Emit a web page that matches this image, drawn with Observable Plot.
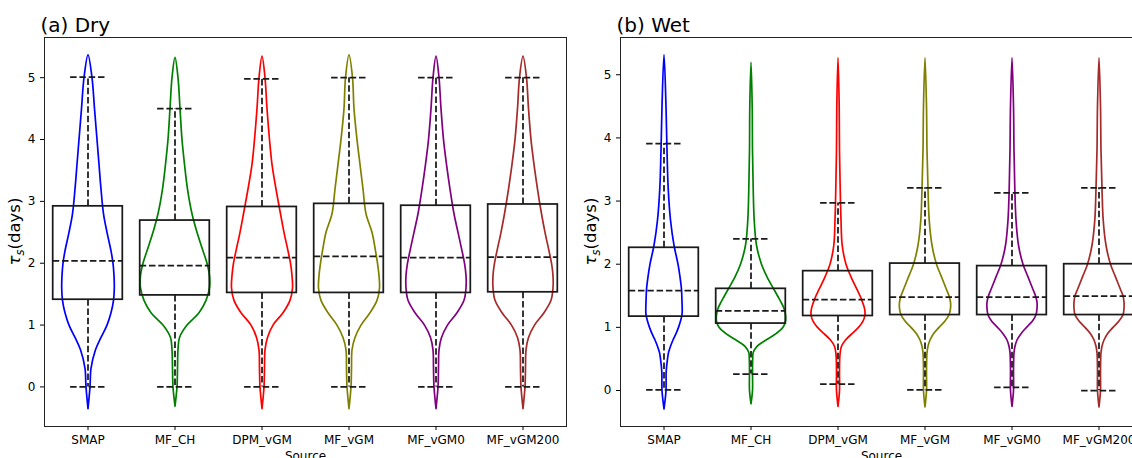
<!DOCTYPE html>
<html><head><meta charset="utf-8">
<script src="https://cdn.jsdelivr.net/npm/d3@7"></script>
<script src="https://cdn.jsdelivr.net/npm/@observablehq/plot@0.6"></script>
<style>
html,body{margin:0;padding:0;background:#fff;}
#wrap{position:relative;width:1132px;height:458px;overflow:hidden;background:#fff;}
#wrap svg{position:absolute;top:0;}
</style></head><body><div id="wrap"></div>
<script>
const sources = ["SMAP","MF_CH","DPM_vGM","MF_vGM","MF_vGM0","MF_vGM200"];
const colors = ["#0000ff","#008000","#ff0000","#808000","#800080","#a52a2a"];
const yTicks = [0, 1, 2, 3, 4, 5];

// ---- Dry season box statistics
const dryQ1  = [1.41, 1.48, 1.52, 1.52, 1.52, 1.53];
const dryMed = [2.04, 1.96, 2.09, 2.11, 2.09, 2.10];
const dryQ3  = [2.92, 2.69, 2.91, 2.96, 2.93, 2.95];
const dryLo  = [0.00, 0.00, 0.00, 0.00, 0.00, 0.00];
const dryHi  = [5.01, 4.50, 4.98, 5.00, 5.00, 5.00];
// ---- Dry violin outlines (half-width density at levels)
const dryTipLo = [-0.35, -0.31, -0.35, -0.35, -0.35, -0.35];
const dryTipHi = [5.37, 5.33, 5.35, 5.37, 5.35, 5.35];
const dryLevels = [0, 0.3, 0.6, 0.8, 1.0, 1.2, 1.4, 1.6, 1.8, 2.0, 2.2, 2.5, 2.8, 3.2, 3.6, 4.0, 4.5, 5.0];
const dryDensSMAP  = [2, 3, 7.5, 13, 19, 23, 25.5, 26.3, 26, 25, 23, 19, 15.5, 13, 11, 9, 6.5, 4];
const dryDensMFCH  = [2, 2.5, 3, 4.5, 12, 24, 31, 34.5, 34.5, 32, 28, 22, 17, 12.5, 9.5, 7, 5, 3];
const dryDensDPM   = [2, 2.5, 3, 5.5, 11, 21, 28, 30.5, 30, 28.5, 26, 22, 18.5, 14, 10, 7.5, 5, 3];
const dryDensVGM   = [2, 2.5, 3, 6, 12, 21, 28, 30.5, 30, 28.5, 26.5, 23, 17, 14, 11, 8, 5, 3.5];
const dryDensVGM0  = [2, 2.5, 3, 5.5, 11.5, 21, 28, 30, 30, 28.5, 26, 22, 18, 14, 10.5, 7.5, 5, 3];
const dryDensVGM200= [2, 2.5, 3, 5.5, 11.5, 21, 28, 30, 30, 28.5, 26, 22, 18.5, 14.5, 11, 8, 5.5, 3.5];

// ---- Wet season box statistics
const wetQ1  = [1.17, 1.06, 1.18, 1.195, 1.195, 1.195];
const wetMed = [1.58, 1.26, 1.44, 1.48, 1.48, 1.495];
const wetQ3  = [2.26, 1.61, 1.89, 2.01, 1.97, 2.00];
const wetLo  = [0.01, 0.26, 0.10, 0.01, 0.05, 0.00];
const wetHi  = [3.91, 2.40, 2.97, 3.21, 3.13, 3.21];
// ---- Wet violin outlines
const wetTipLo = [-0.29, -0.21, -0.25, -0.26, -0.25, -0.26];
const wetTipHi = [5.32, 5.20, 5.27, 5.27, 5.27, 5.27];
const wetLevels = [0, 0.3, 0.5, 0.6, 0.7, 0.8, 0.9, 1.0, 1.1, 1.2, 1.3, 1.4, 1.5, 1.6, 1.8, 2.0, 2.3, 2.7, 3.2, 3.8, 4.5];
const wetDensSMAP  = [2, 2.2, 3.5, 4.5, 6.5, 9, 12, 14.5, 16.5, 18, 18.2, 18, 17.8, 17.5, 16, 14, 10, 6.5, 4.2, 3, 2];
const wetDensMFCH  = [1.5, 1.5, 1.7, 2.2, 6, 15, 25, 32, 34.5, 34.5, 33, 30, 26.5, 23, 16, 10.5, 5.5, 3.2, 2.2, 1.5, 1.2];
const wetDensDPM   = [1.5, 1.5, 1.7, 2.2, 3.5, 7.5, 14, 20.5, 25, 27, 26.5, 24.5, 22, 19, 13, 8, 4.2, 3, 2.2, 1.5, 1.2];
const wetDensVGM   = [1.5, 1.5, 1.7, 2, 3, 5, 8.5, 14, 20, 24, 25.5, 25.5, 24, 21.5, 16.5, 11.5, 7, 4.2, 3, 2, 1.5];
const wetDensVGM0  = [1.5, 1.5, 1.7, 2, 3, 5, 9, 14.5, 20.5, 24, 25, 25, 23.5, 21, 16, 11, 6.5, 4, 2.8, 2, 1.5];
const wetDensVGM200= [1.5, 1.5, 1.7, 2, 3, 5, 8.5, 14, 20, 24, 25, 25, 24, 21.5, 16.5, 11.5, 7, 4.2, 3, 2, 1.5];

const BAND_UNITS = 87; // density units per category band

function boxRows(q1, med, q3, lo, hi) {
  return sources.map((s, i) => ({i, src: s, q1: q1[i], med: med[i], q3: q3[i], lo: lo[i], hi: hi[i]}));
}
function violinRows(levels, dens, tipLo, tipHi) {
  const rows = [];
  dens.forEach((d, i) => {
    const s = sources[i];
    rows.push({src: s, x: i, y: tipLo[i]});
    levels.forEach((y, k) => rows.push({src: s, x: i - d[k] / BAND_UNITS, y}));
    rows.push({src: s, x: i, y: tipHi[i]});
    for (let k = levels.length - 1; k >= 0; k--) rows.push({src: s, x: i + d[k] / BAND_UNITS, y: levels[k]});
    rows.push({src: s, x: i, y: tipLo[i]});
  });
  return rows;
}

function panel(title, yDomain, boxes, violins, left) {
  const ink = "#1a1a1a";
  const dash = "6.5,2.8";
  const lw = 1.75;
  const fs = 12;
  const svg = Plot.plot({
    width: 580, height: 458,
    marginLeft: 44, marginRight: 14, marginTop: 37, marginBottom: 32,
    style: {fontFamily: "DejaVu Sans", fontSize: fs + "px", color: "#000", background: "#fff"},
    x: {type: "linear", domain: [-0.5, 5.5]},
    y: {domain: yDomain},
    color: {domain: sources, range: colors},
    marks: [
      Plot.line(violins, {x: "x", y: "y", z: "src", stroke: "src", strokeWidth: 1.7, curve: "catmull-rom"}),
      Plot.ruleX(boxes, {x: "i", y1: "q3", y2: "hi", stroke: ink, strokeWidth: lw, strokeDasharray: dash}),
      Plot.ruleX(boxes, {x: "i", y1: "q1", y2: "lo", stroke: ink, strokeWidth: lw, strokeDasharray: dash}),
      Plot.ruleY(boxes, {y: "hi", x1: d => d.i - 0.2, x2: d => d.i + 0.2, stroke: ink, strokeWidth: lw, strokeDasharray: dash}),
      Plot.ruleY(boxes, {y: "lo", x1: d => d.i - 0.2, x2: d => d.i + 0.2, stroke: ink, strokeWidth: lw, strokeDasharray: dash}),
      Plot.rect(boxes, {x1: d => d.i - 0.4, x2: d => d.i + 0.4, y1: "q1", y2: "q3", fill: "none", stroke: ink, strokeWidth: lw}),
      Plot.ruleY(boxes, {y: "med", x1: d => d.i - 0.4, x2: d => d.i + 0.4, stroke: ink, strokeWidth: lw, strokeDasharray: dash}),
      Plot.frame({stroke: "#222", strokeWidth: 1}),
      Plot.axisY({ticks: yTicks, tickFormat: d3.format("d"), tickSize: 4, tickPadding: 5, label: null, fontSize: fs}),
      Plot.axisX({ticks: [0, 1, 2, 3, 4, 5], tickFormat: i => sources[i], tickSize: 4, tickPadding: 5, label: null, fontSize: fs}),
      Plot.text([title], {frameAnchor: "top-left", dx: -4, dy: -6, lineAnchor: "bottom", textAnchor: "start", fontSize: 20, fill: "#000"}),
      Plot.text(["Source"], {frameAnchor: "bottom", dy: 33, lineAnchor: "bottom", fontSize: fs, fill: "#000"})
    ]
  });
  svg.style.left = left + "px";
  const t = d3.select(svg).append("text")
    .attr("transform", `translate(20,${(37 + 426) / 2}) rotate(-90)`)
    .attr("text-anchor", "middle")
    .attr("font-family", "DejaVu Sans")
    .attr("font-size", 16.5)
    .attr("fill", "#000");
  t.append("tspan").attr("font-style", "italic").text("τ");
  t.append("tspan").attr("font-style", "italic").attr("font-size", 11.5).attr("dy", 3.5).text("s");
  t.append("tspan").attr("dy", -3.5).text("(days)");
  return svg;
}

const wrap = document.getElementById("wrap");
wrap.appendChild(panel("(a) Dry", [-0.64, 5.65],
  boxRows(dryQ1, dryMed, dryQ3, dryLo, dryHi),
  violinRows(dryLevels, [dryDensSMAP, dryDensMFCH, dryDensDPM, dryDensVGM, dryDensVGM0, dryDensVGM200], dryTipLo, dryTipHi), 0));
wrap.appendChild(panel("(b) Wet", [-0.57, 5.59],
  boxRows(wetQ1, wetMed, wetQ3, wetLo, wetHi),
  violinRows(wetLevels, [wetDensSMAP, wetDensMFCH, wetDensDPM, wetDensVGM, wetDensVGM0, wetDensVGM200], wetTipLo, wetTipHi), 576));
</script></body></html>
